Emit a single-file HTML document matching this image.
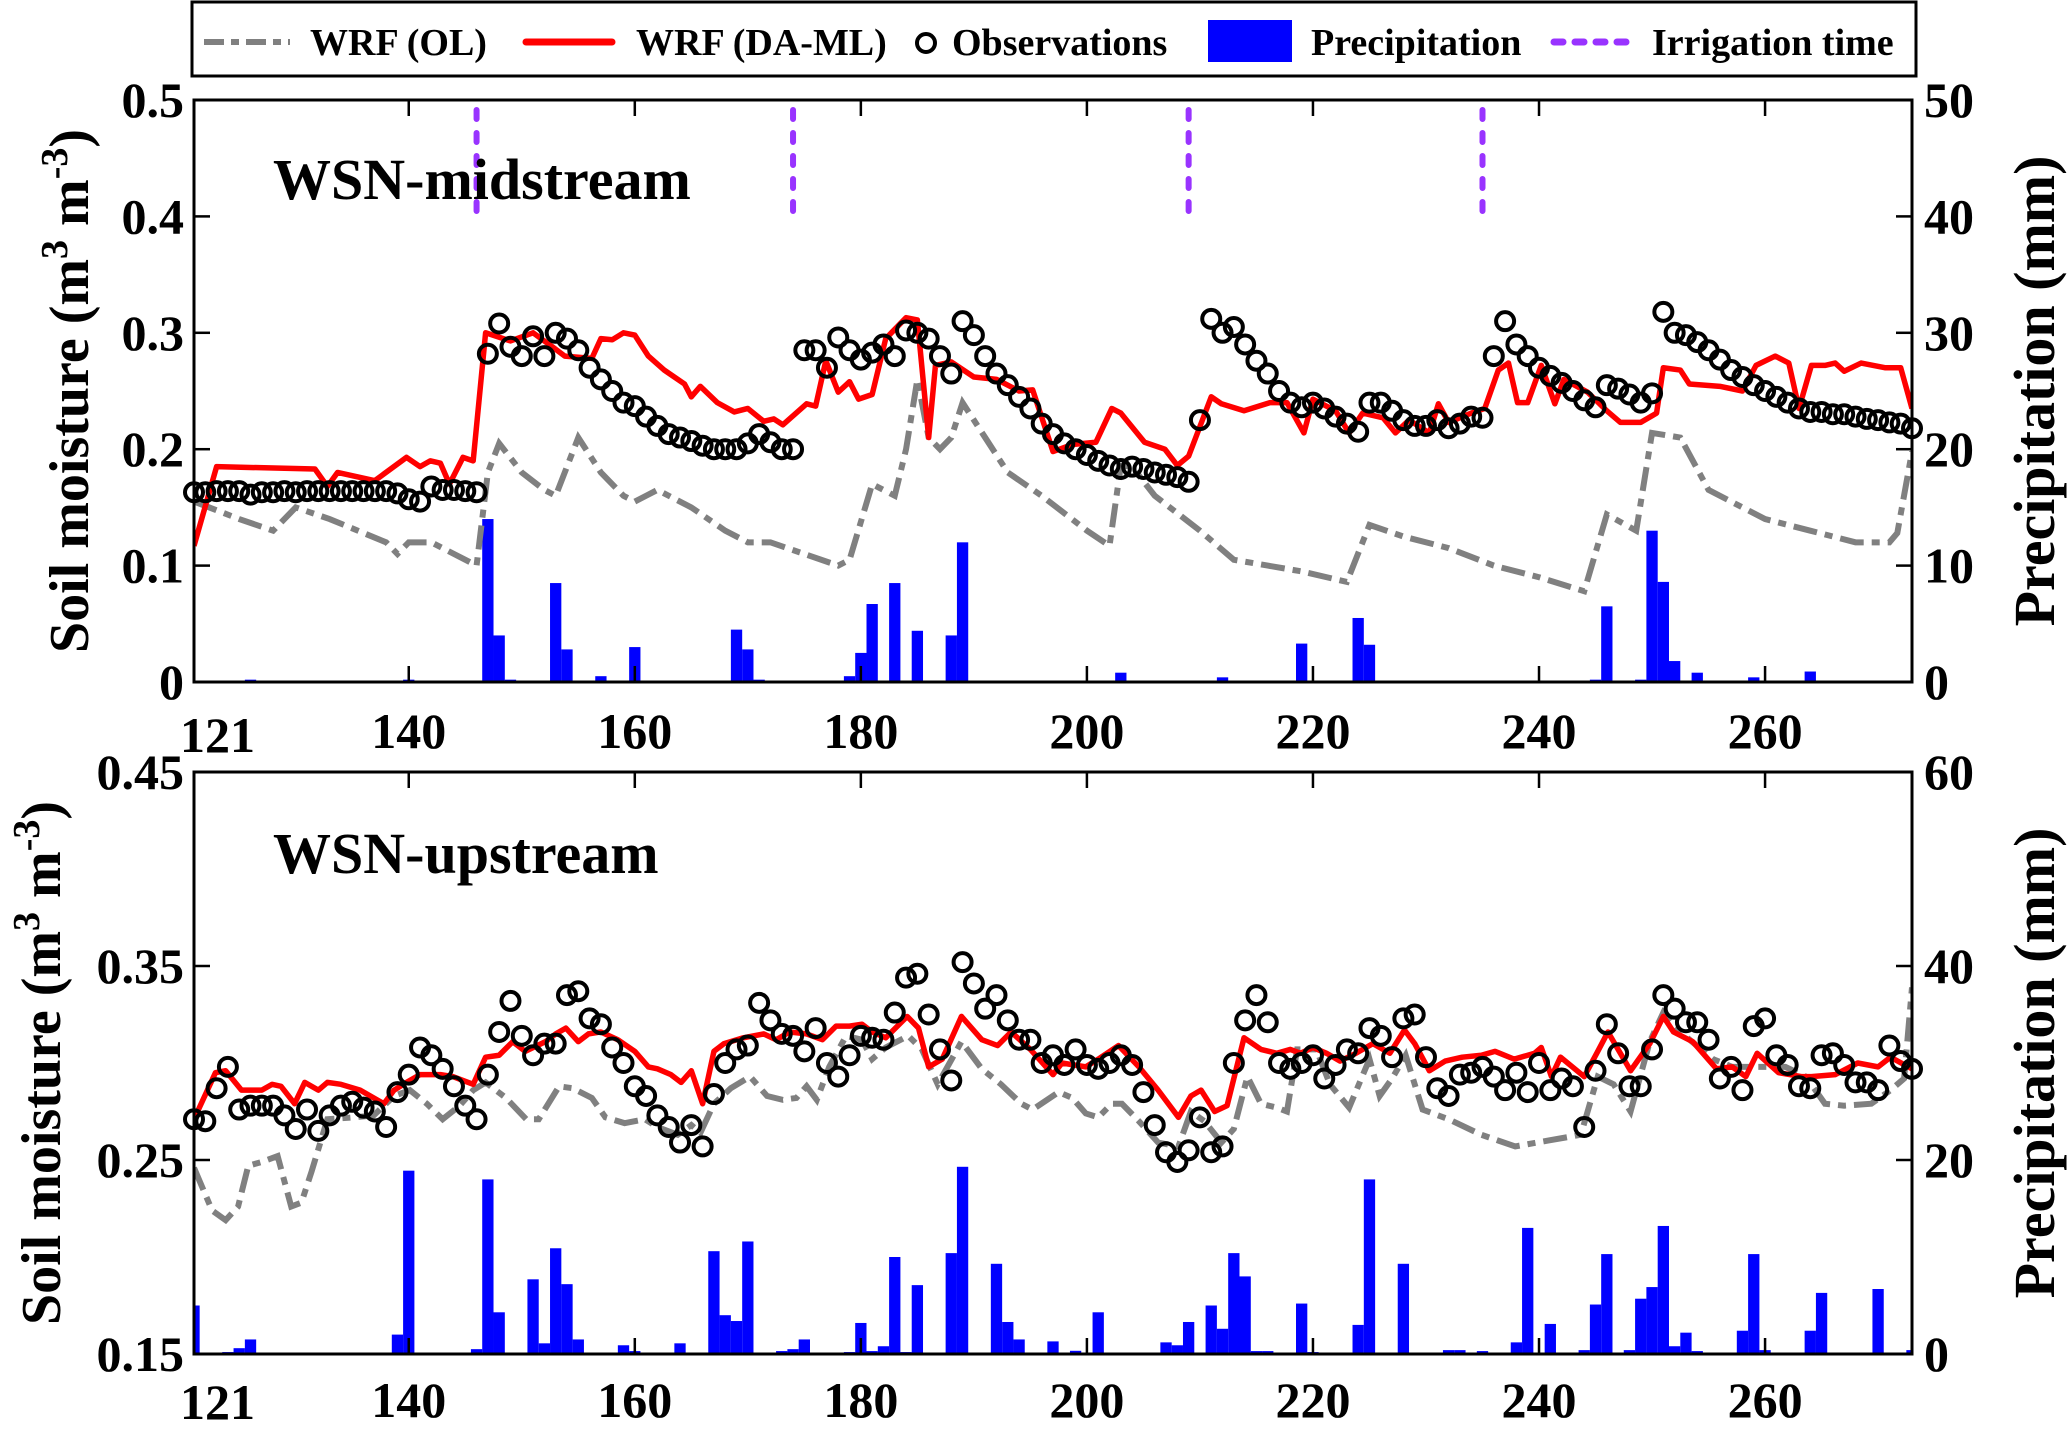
<!DOCTYPE html>
<html><head><meta charset="utf-8"><style>
html,body{margin:0;padding:0;background:#fff;}
svg text{font-family:"Liberation Serif",serif;font-weight:bold;}
</style></head><body>
<svg id="chart" xmlns="http://www.w3.org/2000/svg" width="2067" height="1424" viewBox="0 0 2067 1424">
<rect width="2067" height="1424" fill="#fff"/>
<g id="legend">
  <rect x="192" y="2" width="1724" height="74" fill="#fff" stroke="#000" stroke-width="3"/>
  <g>
    <line x1="204" y1="42" x2="290" y2="42" stroke="#808080" stroke-width="6" stroke-dasharray="20,7,8,7"/>
    <text x="310" y="55" font-size="38">WRF (OL)</text>
  </g>
  <g>
    <line x1="526" y1="42" x2="612" y2="42" stroke="#ff0000" stroke-width="7" stroke-linecap="round"/>
    <text x="636" y="55" font-size="38">WRF (DA-ML)</text>
  </g>
  <g>
    <circle cx="926" cy="43" r="9" fill="none" stroke="#000" stroke-width="4"/>
    <text x="952" y="55" font-size="38">Observations</text>
  </g>
  <g>
    <rect x="1208" y="20" width="84" height="42" fill="#0000ff"/>
    <text x="1311" y="55" font-size="38">Precipitation</text>
  </g>
  <g>
    <line x1="1554" y1="42" x2="1636" y2="42" stroke="#9933ff" stroke-width="7" stroke-dasharray="9,12" stroke-linecap="round"/>
    <text x="1652" y="55" font-size="38">Irrigation time</text>
  </g>
</g>
<g id="top"></g>
<g id="bottom"></g>
</svg>
<script>
// ---------- data: midstream (top) ----------
const topOlDays = [121,125,128,130,133,138,139,140,142,146,147,148,150,152,153,155,157,159,160,161,162,165,168,170,172,175,178,179,181,182,183,184,185,186,187,188,189,191,193,196,200,202,203,204,206,210,213,216,219,223,225,228,232,236,240,244,246,248.6,250,252.5,255,258,260,264,268,271,271.7,273];
const topOlVals = [0.155,0.14,0.13,0.15,0.14,0.12,0.11,0.12,0.12,0.10,0.18,0.205,0.18,0.165,0.16,0.21,0.18,0.16,0.155,0.16,0.165,0.15,0.13,0.12,0.12,0.11,0.10,0.105,0.17,0.165,0.16,0.2,0.26,0.21,0.2,0.21,0.24,0.21,0.18,0.16,0.13,0.117,0.186,0.185,0.16,0.13,0.105,0.1,0.095,0.086,0.135,0.125,0.115,0.1,0.09,0.078,0.144,0.13,0.214,0.21,0.165,0.15,0.14,0.13,0.12,0.12,0.128,0.198];
const topDaDays = [121,123,131.7,132.8,133.7,137,139.8,141,141.9,142.8,143.6,144.8,145.7,146.8,149,151,152.7,153.8,156.2,157,158,159,160,161.2,162.6,164.4,165,165.8,167.3,168.8,170,171.4,172.3,173.1,175.2,176,176.9,178,179,179.8,181,182.2,184,185,186,186.6,188,190,192,194,195.2,197,198.7,200.8,202.2,203,205.1,206.9,208,209,211,211.9,213.9,216.2,217.7,219.2,220,222,223.2,224.4,226.2,227.3,228.5,230.3,231.1,232,234,235.2,236.4,237.3,238.1,239,240.2,241.4,242.2,244.3,246,247.2,249,250.4,251,252.5,253.3,256,258,259.2,260.9,262.1,263,264.1,265.3,266.2,267,268.5,270.6,272,273];
const topDaVals = [0.117,0.185,0.183,0.168,0.18,0.173,0.193,0.185,0.19,0.188,0.17,0.193,0.19,0.3,0.293,0.3,0.288,0.28,0.278,0.295,0.294,0.3,0.298,0.28,0.268,0.256,0.245,0.254,0.24,0.232,0.235,0.224,0.226,0.221,0.239,0.237,0.276,0.249,0.258,0.243,0.247,0.295,0.313,0.311,0.21,0.272,0.275,0.262,0.26,0.25,0.251,0.198,0.204,0.206,0.235,0.231,0.206,0.2,0.186,0.194,0.245,0.239,0.233,0.24,0.24,0.214,0.243,0.233,0.214,0.231,0.227,0.214,0.225,0.214,0.239,0.223,0.231,0.235,0.268,0.274,0.24,0.24,0.272,0.239,0.26,0.249,0.233,0.223,0.223,0.231,0.27,0.268,0.256,0.254,0.25,0.272,0.28,0.274,0.235,0.272,0.272,0.274,0.267,0.274,0.27,0.27,0.235];
const topObsDays = [121,122,123,124,125,126,127,128,129,130,131,132,133,134,135,136,137,138,139,140,141,142,143,144,145,146,147,148,149,150,151,152,153,154,155,156,157,158,159,160,161,162,163,164,165,166,167,168,169,170,171,172,173,174,175,176,177,178,179,180,181,182,183,184,185,186,187,188,189,190,191,192,193,194,195,196,197,198,199,200,201,202,203,204,205,206,207,208,209,210,211,212,213,214,215,216,217,218,219,220,221,222,223,224,225,226,227,228,229,230,231,232,233,234,235,236,237,238,239,240,241,242,243,244,245,246,247,248,249,250,251,252,253,254,255,256,257,258,259,260,261,262,263,264,265,266,267,268,269,270,271,272,273];
const topObsVals = [0.163,0.163,0.164,0.164,0.164,0.161,0.163,0.163,0.164,0.163,0.164,0.164,0.164,0.164,0.164,0.164,0.164,0.164,0.162,0.157,0.155,0.168,0.165,0.165,0.164,0.163,0.282,0.308,0.288,0.28,0.297,0.28,0.3,0.295,0.285,0.27,0.26,0.25,0.24,0.237,0.228,0.22,0.213,0.21,0.207,0.203,0.2,0.2,0.2,0.205,0.213,0.206,0.2,0.2,0.285,0.285,0.27,0.296,0.285,0.277,0.283,0.29,0.28,0.302,0.3,0.295,0.28,0.265,0.31,0.298,0.28,0.265,0.255,0.245,0.235,0.222,0.213,0.205,0.2,0.195,0.19,0.186,0.183,0.185,0.183,0.18,0.178,0.176,0.172,0.225,0.312,0.3,0.305,0.29,0.276,0.265,0.25,0.24,0.236,0.24,0.235,0.228,0.222,0.215,0.24,0.24,0.233,0.225,0.22,0.22,0.225,0.218,0.222,0.228,0.227,0.28,0.31,0.29,0.28,0.27,0.263,0.257,0.25,0.242,0.236,0.255,0.252,0.247,0.24,0.248,0.318,0.3,0.298,0.292,0.285,0.277,0.268,0.262,0.255,0.25,0.245,0.24,0.235,0.232,0.232,0.23,0.23,0.228,0.226,0.225,0.223,0.222,0.218];
const topPrecDays = [126,140,147,148,149,153,154,157,160,169,170,171,179,180,181,183,185,188,189,203,212,219,224,225,226,245,246,249,250,251,252,254,259,264];
const topPrecVals = [0.2,0.2,14,4,0.2,8.5,2.8,0.5,3,4.5,2.8,0.2,0.5,2.5,6.7,8.5,4.4,4,12,0.8,0.4,3.3,5.5,3.2,0.1,0.2,6.5,0.2,13,8.6,1.8,0.8,0.4,0.9];
const irrigationDays = [146,174,209,235];
const topYTicks = ["0","0.1","0.2","0.3","0.4","0.5"];
const topY2Ticks = ["0","10","20","30","40","50"];

// ---------- data: upstream (bottom) ----------
const botOlDays = [121,122.6,123.8,124.9,125.8,127,128.4,129.6,130.5,131.4,132.8,135.2,136.9,138.7,140.1,141.6,143,144.5,145.7,146.8,148.6,150.4,151.5,153.3,154.5,156.2,157.4,159.1,160.9,162,163.8,165,165.8,167,168.5,170.2,171.7,173.1,174.3,175.2,176.1,177.2,178.7,180.1,181,182.2,184.2,185.4,186.8,188.9,190.7,192.4,194.2,195.2,197.5,198.7,199.9,201,202.2,203.1,204.6,206.3,208.1,209.2,210.4,211.9,213,214.2,215.4,216.8,217.7,218.6,220.3,221.5,223.2,225,225.9,227,228.2,229.7,232,234.9,237.9,240.8,243.7,245.2,246.6,248.1,249.8,251,252.5,255.4,257.1,258.9,261.8,263.6,265.3,267,269.4,271.1,272.3,273];
const botOlVals = [0.246,0.224,0.219,0.226,0.247,0.249,0.252,0.226,0.228,0.244,0.271,0.272,0.273,0.283,0.286,0.279,0.271,0.278,0.286,0.29,0.282,0.271,0.271,0.288,0.287,0.282,0.272,0.269,0.271,0.267,0.263,0.268,0.264,0.279,0.287,0.293,0.283,0.281,0.282,0.288,0.281,0.298,0.314,0.312,0.302,0.308,0.314,0.307,0.289,0.311,0.297,0.289,0.279,0.276,0.285,0.282,0.274,0.272,0.279,0.279,0.27,0.259,0.257,0.275,0.27,0.259,0.266,0.293,0.279,0.277,0.275,0.307,0.307,0.289,0.277,0.302,0.283,0.292,0.304,0.276,0.271,0.263,0.257,0.26,0.263,0.293,0.289,0.275,0.311,0.326,0.316,0.302,0.298,0.298,0.298,0.293,0.279,0.278,0.279,0.286,0.292,0.339];
const botDaDays = [121,122.9,123.8,125.2,127,127.9,128.7,129.9,130.8,132,132.8,134,135.7,137.8,138.7,139.8,141,142.8,143.9,145.7,146.8,148,149.2,150.3,152.1,153,153.9,155,155.9,157,158.5,160,161.2,162,163.2,164.1,165,166,167,167.9,169.6,171.4,172.5,173.7,175.2,176.6,177.8,179,180.1,181,182.2,184.1,185.1,186,187.2,188.9,190.7,192.1,193.3,195,197,197.8,199.9,201,202.8,204.6,206.3,208.1,209.2,210.1,211.3,212.4,213.9,215.4,216.8,218,218.9,220,221.2,222.4,223.8,225.3,226.8,228.1,229,230.3,231.7,233.2,234.9,236.1,237.8,239.6,240.2,241.1,241.9,244,245.2,246.1,248.1,249.8,251,251.9,253.6,255.7,257.1,258.3,259.3,261.2,263.2,264.1,266.2,268.2,270,271.1,273];
const botDaVals = [0.271,0.295,0.296,0.286,0.286,0.289,0.288,0.279,0.29,0.286,0.29,0.289,0.286,0.279,0.286,0.29,0.294,0.294,0.293,0.289,0.303,0.304,0.311,0.306,0.311,0.315,0.318,0.311,0.315,0.316,0.312,0.306,0.298,0.297,0.294,0.29,0.296,0.279,0.306,0.31,0.313,0.315,0.312,0.316,0.315,0.312,0.319,0.319,0.32,0.316,0.313,0.324,0.318,0.298,0.302,0.324,0.312,0.309,0.316,0.307,0.294,0.3,0.298,0.302,0.309,0.298,0.286,0.272,0.283,0.286,0.275,0.278,0.313,0.307,0.305,0.307,0.305,0.308,0.305,0.301,0.305,0.31,0.305,0.317,0.31,0.296,0.301,0.303,0.304,0.306,0.302,0.305,0.308,0.293,0.303,0.293,0.306,0.316,0.296,0.31,0.324,0.316,0.311,0.297,0.298,0.293,0.305,0.295,0.293,0.293,0.294,0.3,0.298,0.303,0.297];
const botObsDays = topObsDays;
const botObsVals = [0.271,0.27,0.287,0.298,0.276,0.278,0.278,0.278,0.273,0.266,0.276,0.265,0.273,0.278,0.28,0.277,0.275,0.267,0.285,0.294,0.308,0.304,0.297,0.288,0.278,0.271,0.294,0.316,0.332,0.314,0.304,0.31,0.31,0.335,0.337,0.323,0.32,0.308,0.3,0.288,0.283,0.273,0.267,0.259,0.268,0.257,0.284,0.3,0.307,0.309,0.331,0.322,0.315,0.314,0.306,0.318,0.3,0.293,0.304,0.314,0.313,0.312,0.326,0.344,0.346,0.325,0.307,0.291,0.352,0.341,0.328,0.335,0.322,0.312,0.312,0.3,0.304,0.299,0.307,0.299,0.297,0.3,0.304,0.299,0.285,0.268,0.254,0.249,0.255,0.272,0.254,0.257,0.3,0.322,0.335,0.321,0.3,0.297,0.3,0.304,0.292,0.299,0.307,0.305,0.318,0.314,0.303,0.323,0.325,0.303,0.287,0.283,0.294,0.295,0.298,0.293,0.286,0.295,0.285,0.3,0.286,0.292,0.288,0.267,0.296,0.32,0.305,0.288,0.288,0.307,0.335,0.328,0.321,0.321,0.312,0.292,0.298,0.286,0.319,0.323,0.304,0.299,0.288,0.287,0.304,0.305,0.299,0.29,0.29,0.286,0.309,0.301,0.297];
const botPrecDays = [121,122,123,124,125,126,127,139,140,146,147,148,151,152,153,154,155,159,160,164,167,168,169,170,173,174,175,179,180,181,182,183,184,185,188,189,192,193,194,197,199,201,207,208,209,211,212,213,214,215,216,219,220,224,225,228,232,233,235,238,239,241,244,245,246,248,249,250,251,252,253,254,258,259,260,264,265,270,273];
const botPrecVals = [5,0.1,0.1,0.2,0.6,1.5,0.1,2,18.9,0.5,18,4.3,7.7,1.1,10.9,7.2,1.5,0.9,0.3,1.1,10.6,4,3.4,11.6,0.3,0.5,1.5,0.2,3.2,0.3,0.8,10,0.2,7.1,10.4,19.3,9.3,3.3,1.5,1.3,0.33,4.3,1.2,0.9,3.3,5,2.6,10.4,8,0.3,0.3,5.2,0.2,3,18,9.3,0.4,0.4,0.3,1.2,13,3.1,0.4,5.1,10.3,0.4,5.7,6.9,13.2,0.8,2.2,0.3,2.4,10.3,0.4,2.4,6.3,6.7,0.4];
const botYTicks = ["0.15","0.25","0.35","0.45"];
const botY2Ticks = ["0","20","40","60"];
const xTickDays = [140,160,180,200,220,240,260];

// ---------- drawing ----------
const NS = "http://www.w3.org/2000/svg";
const X0 = 194, X1 = 1912, DMIN = 121, DMAX = 273;
function xs(d){ return X0 + (d - DMIN) / (DMAX - DMIN) * (X1 - X0); }
function mk(tag, attrs, parent){
  const e = document.createElementNS(NS, tag);
  for (const k in attrs) e.setAttribute(k, attrs[k]);
  parent.appendChild(e); return e;
}

function panel(g, cfg){
  const {top, bot, ymin, ymax, pmax} = cfg;
  const ys = v => bot - (v - ymin) / (ymax - ymin) * (bot - top);
  const ps = v => bot - v / pmax * (bot - top);
  const clipId = cfg.id + "-clip";
  const cp = mk("clipPath", {id: clipId}, g);
  mk("rect", {x: X0, y: top, width: X1 - X0, height: bot - top}, cp);

  const bars = mk("g", {"clip-path": "url(#" + clipId + ")"}, g);
  
  
  const bw = xs(1) - xs(0);
  cfg.precDays.forEach((d, i) => {
    const y = ps(cfg.precVals[i]);
    const r = mk("rect", {x: xs(d) - bw / 2, y: y, width: bw, height: bot - y, fill: "#0000ff"}, bars);
    
    
  });

  if (cfg.irr) {
    cfg.irr.forEach(d => {
      const l = mk("line", {x1: xs(d), x2: xs(d), y1: top + 10, y2: ys(0.4) + 6, stroke: "#9933ff", "stroke-width": 6, "stroke-dasharray": "9,14", "stroke-linecap": "round"}, g);
      
      
    });
  }

  const lines = mk("g", {"clip-path": "url(#" + clipId + ")"}, g);
  const ol = mk("polyline", {points: cfg.olDays.map((d, i) => xs(d) + "," + ys(cfg.olVals[i])).join(" "), fill: "none", stroke: "#808080", "stroke-width": 6, "stroke-dasharray": "24,8,8,8"}, lines);
  
  
  const da = mk("polyline", {points: cfg.daDays.map((d, i) => xs(d) + "," + ys(cfg.daVals[i])).join(" "), fill: "none", stroke: "#ff0000", "stroke-width": 5.5, "stroke-linejoin": "round"}, lines);
  
  

  const obs = mk("g", {}, g);
  
  
  cfg.obsDays.forEach((d, i) => {
    const c = mk("circle", {cx: xs(d), cy: ys(cfg.obsVals[i]), r: 9, fill: "none", stroke: "#000", "stroke-width": 4}, obs);
    
    
  });

  const fr = mk("rect", {x: X0, y: top, width: X1 - X0, height: bot - top, fill: "none", stroke: "#000", "stroke-width": 3}, g);
  
  

  xTickDays.forEach(d => {
    mk("line", {x1: xs(d), x2: xs(d), y1: top, y2: top + 16, stroke: "#000", "stroke-width": 2.5}, g);
    mk("line", {x1: xs(d), x2: xs(d), y1: bot, y2: bot - 16, stroke: "#000", "stroke-width": 2.5}, g);
    const t = mk("text", {x: xs(d), y: cfg.xLabelY, "font-size": 50, "text-anchor": "middle"}, g);
    t.textContent = String(d);
    
    
  });
  const t121 = mk("text", {x: X0 - 14, y: cfg.xLabelY + cfg.d121, "font-size": 50, "text-anchor": "start"}, g);
  t121.textContent = "121";
  
  

  const n = cfg.yTicks.length;
  cfg.yTicks.forEach((lab, i) => {
    const y = bot - i / (n - 1) * (bot - top);
    mk("line", {x1: X0, x2: X0 + 16, y1: y, y2: y, stroke: "#000", "stroke-width": 2.5}, g);
    const t = mk("text", {x: X0 - 10, y: y + 17, "font-size": 50, "text-anchor": "end"}, g);
    t.textContent = lab;
    
    
  });
  const m = cfg.y2Ticks.length;
  cfg.y2Ticks.forEach((lab, i) => {
    const y = bot - i / (m - 1) * (bot - top);
    mk("line", {x1: X1, x2: X1 - 16, y1: y, y2: y, stroke: "#000", "stroke-width": 2.5}, g);
    const t = mk("text", {x: X1 + 12, y: y + 17, "font-size": 50, "text-anchor": "start"}, g);
    t.textContent = lab;
    
    
  });

  const mid = (top + bot) / 2;
  const yt = mk("text", {x: 0, y: 0, "font-size": 56, "text-anchor": "middle", transform: "translate(" + (cfg.yTitleX) + "," + mid + ") rotate(-90)"}, g);
  
  
  yt.innerHTML = 'Soil moisture (m<tspan baseline-shift="super" font-size="38">3</tspan> m<tspan baseline-shift="super" font-size="38">-3</tspan>)';
  const y2t = mk("text", {x: 0, y: 0, "font-size": 58, "text-anchor": "middle", transform: "translate(2054," + mid + ") rotate(-90)"}, g);
  y2t.textContent = "Precipitation (mm)";
  
  

  const pl = mk("text", {x: 273, y: cfg.labelY, "font-size": 58}, g);
  pl.textContent = cfg.label;
  
  
}

panel(document.getElementById("top"), {
  id: "midstream", top: 100, bot: 682, ymin: 0, ymax: 0.5, pmax: 50,
  olDays: topOlDays, olVals: topOlVals, daDays: topDaDays, daVals: topDaVals,
  obsDays: topObsDays, obsVals: topObsVals, precDays: topPrecDays, precVals: topPrecVals,
  irr: irrigationDays, yTicks: topYTicks, y2Ticks: topY2Ticks,
  xLabelY: 748, d121: 4, yTitleX: 88, labelY: 199, label: "WSN-midstream"
});
panel(document.getElementById("bottom"), {
  id: "upstream", top: 772, bot: 1354, ymin: 0.15, ymax: 0.45, pmax: 60,
  olDays: botOlDays, olVals: botOlVals, daDays: botDaDays, daVals: botDaVals,
  obsDays: botObsDays, obsVals: botObsVals, precDays: botPrecDays, precVals: botPrecVals,
  irr: null, yTicks: botYTicks, y2Ticks: botY2Ticks,
  xLabelY: 1417, d121: 2, yTitleX: 60, labelY: 873, label: "WSN-upstream"
});
</script>
</body></html>
